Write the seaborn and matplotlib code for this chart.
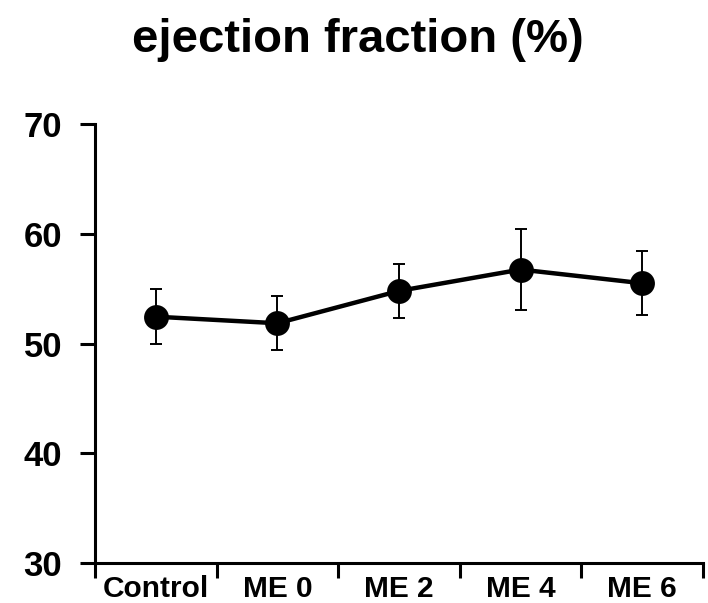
import pandas as pd
import matplotlib.pyplot as plt
import seaborn as sns

groups = ['Control', 'ME 0', 'ME 2', 'ME 4', 'ME 6']
ef_mean = [52.45, 51.85, 54.8, 56.75, 55.5]
ef_err = [2.5, 2.45, 2.5, 3.7, 2.9]
y_ticks = [30, 40, 50, 60, 70]

df = pd.DataFrame({'group': groups, 'ef': ef_mean, 'err': ef_err})

sns.set_style('white')
plt.rcParams['font.family'] = ['Liberation Sans', 'DejaVu Sans']
plt.rcParams['font.weight'] = 'bold'
for key in ['text.color', 'axes.labelcolor', 'xtick.color', 'ytick.color']:
    plt.rcParams[key] = 'black'

fig = plt.figure(figsize=(7.08, 6.03), dpi=100)
ax = fig.add_axes([0.134, 0.0668, 0.859, 0.727])

ax.errorbar(range(len(groups)), df['ef'], yerr=df['err'], fmt='none',
            ecolor='black', elinewidth=1.4, capsize=4.5, capthick=1.4, zorder=2)
sns.pointplot(data=df, x='group', y='ef', errorbar=None, color='black',
              markersize=15.5, linewidth=3.2, ax=ax, zorder=3)

ax.set_xlim(-0.5, len(groups) - 0.5)
ax.set_ylim(30, 70)
ax.set_yticks(y_ticks)
ax.set_xlabel('')
ax.set_ylabel('')

for side in ['top', 'right']:
    ax.spines[side].set_visible(False)
for side in ['left', 'bottom']:
    ax.spines[side].set_linewidth(2.2)
    ax.spines[side].set_color('black')

# category boundaries carry the visible ticks, labels sit in between
ax.set_xticks([i - 0.5 for i in range(len(groups) + 1)], minor=True)
ax.tick_params(axis='x', which='major', length=0, pad=9, labelsize=21.5,
               labelcolor='black')
ax.tick_params(axis='x', which='minor', direction='out', length=10.5,
               width=2.2, color='black', bottom=True)
ax.tick_params(axis='y', direction='out', length=10.5, width=2.2,
               color='black', pad=13, labelsize=25, left=True,
               labelcolor='black')
for lab in ax.get_xticklabels() + ax.get_yticklabels():
    lab.set_fontweight('bold')

fig.text(0.505, 1 - 52 / 603, 'ejection fraction (%)', ha='center',
         va='baseline', fontsize=34, fontweight='bold', color='black')

fig.savefig('out.png', dpi=100)
